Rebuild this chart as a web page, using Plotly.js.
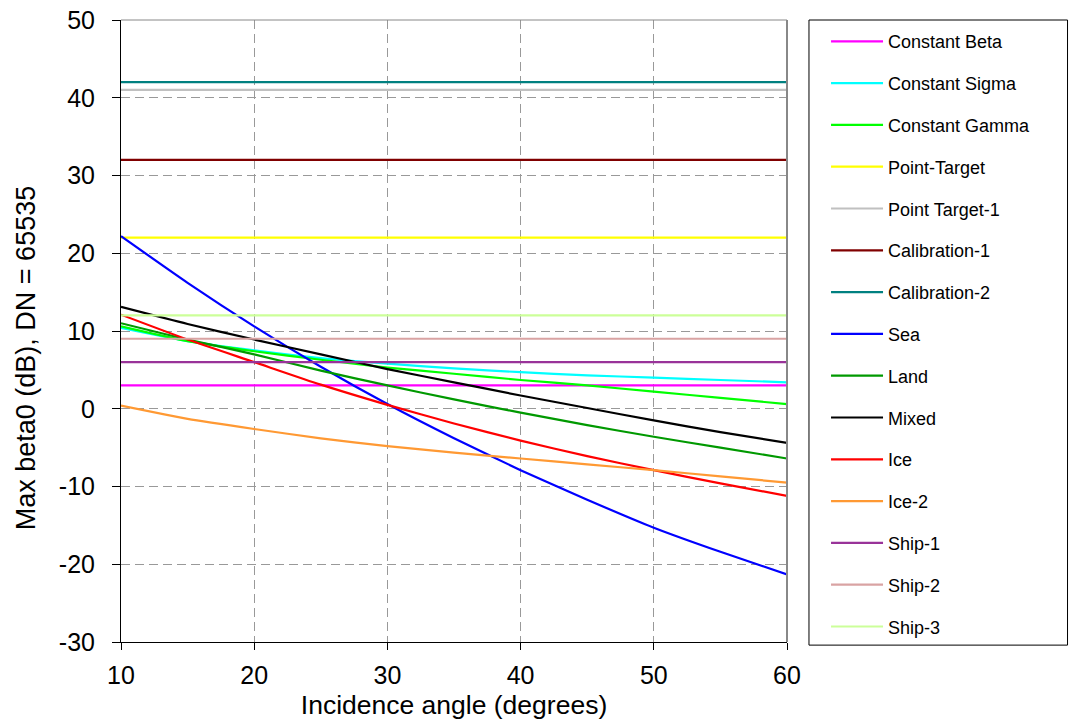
<!DOCTYPE html>
<html>
<head>
<meta charset="utf-8">
<script src="https://cdn.plot.ly/plotly-3.0.1.min.js"></script>
<style>html,body{margin:0;padding:0;background:#fff;}#chart{width:1069px;height:721px;}</style>
</head>
<body>
<div id="chart"></div>
<script>
// Incidence angles (degrees) for curved series
const angles = [10, 15, 20, 25, 30, 35, 40, 45, 50, 55, 60];
// Horizontal (constant) series span
const angleSpan = [10, 60];

// Tick labels
const xTickVals = [10, 20, 30, 40, 50, 60];
const xTickText = ["10", "20", "30", "40", "50", "60"];
const yTickVals = [-30, -20, -10, 0, 10, 20, 30, 40, 50];
const yTickText = ["-30", "-20", "-10", "0", "10", "20", "30", "40", "50"];
const yTitle = "Max beta0 (dB), DN = 65535";
const xTitle = "Incidence angle (degrees)";

// Curved series values (dB)
const constantSigma = [10.4, 8.7, 7.5, 6.5, 5.8, 5.2, 4.7, 4.3, 4.0, 3.7, 3.4];
const constantGamma = [10.6, 8.7, 7.4, 6.3, 5.3, 4.5, 3.7, 3.0, 2.2, 1.4, 0.6];
const sea = [22.2, 16.2, 10.6, 5.4, 0.6, -3.8, -7.9, -11.7, -15.3, -18.4, -21.3];
const land = [11.0, 8.9, 7.0, 4.9, 3.0, 1.2, -0.5, -2.1, -3.6, -5.0, -6.4];
const mixed = [13.1, 10.9, 8.9, 7.0, 5.1, 3.4, 1.7, 0.1, -1.5, -3.0, -4.4];
const ice = [12.1, 8.9, 6.0, 3.1, 0.5, -1.9, -4.1, -6.1, -7.9, -9.6, -11.2];
const ice2 = [0.4, -1.3, -2.6, -3.8, -4.8, -5.65, -6.4, -7.15, -7.9, -8.7, -9.5];

// Constant series levels (dB)
const constantBeta = 3;
const pointTarget = 22;
const pointTarget1 = 41;
const calibration1 = 32;
const calibration2 = 42;
const ship1 = 6;
const ship2 = 9;
const ship3 = 12;

const seriesNames = ["Constant Beta","Constant Sigma","Constant Gamma","Point-Target","Point Target-1",
  "Calibration-1","Calibration-2","Sea","Land","Mixed","Ice","Ice-2","Ship-1","Ship-2","Ship-3"];
const seriesColors = ["#FF00FF","#00FFFF","#00FF00","#FFFF00","#C0C0C0",
  "#800000","#008080","#0000FF","#009900","#000000","#FF0000","#FF9933","#993399","#D9A3A3","#CCFF99"];

function flat(v){ return [v, v]; }
const seriesX = [angleSpan, angles, angles, angleSpan, angleSpan, angleSpan, angleSpan,
  angles, angles, angles, angles, angles, angleSpan, angleSpan, angleSpan];
const seriesY = [flat(constantBeta), constantSigma, constantGamma, flat(pointTarget), flat(pointTarget1),
  flat(calibration1), flat(calibration2), sea, land, mixed, ice, ice2, flat(ship1), flat(ship2), flat(ship3)];

const traces = seriesNames.map((n, i) => ({
  type: "scatter", mode: "lines", name: n, legendgroup: "g" + i,
  x: seriesX[i], y: seriesY[i],
  line: {color: seriesColors[i], width: 2.2, shape: "spline", smoothing: 0.6}
}));

const fam = "Liberation Sans, Arial, sans-serif";
const font = {family: fam, size: 25, color: "#000"};

const layout = {
  width: 1069, height: 721,
  margin: {l: 121, r: 282, t: 20, b: 79},
  paper_bgcolor: "#fff", plot_bgcolor: "#fff",
  font: font,
  showlegend: true,
  legend: {
    x: 1.0586, xanchor: "left", y: 0.995, yanchor: "top",
    bgcolor: "rgba(0,0,0,0)", borderwidth: 0,
    font: {family: fam, size: 18, color: "#000"},
    traceorder: "grouped", tracegroupgap: 15.4, itemwidth: 52
  },
  xaxis: {
    range: [10, 60], tickvals: xTickVals, ticktext: xTickText,
    showline: true, linecolor: "#000", linewidth: 1,
    ticks: "outside", ticklen: 7, tickcolor: "#000",
    showgrid: true, gridcolor: "#999", griddash: "9px,5px", gridwidth: 1,
    zeroline: false, automargin: false,
    tickfont: font, ticklabelstandoff: 4,
    title: {text: xTitle, font: {family: fam, size: 26.5, color: "#000"}, standoff: 7}
  },
  yaxis: {
    range: [-30, 50], tickvals: yTickVals, ticktext: yTickText,
    showline: true, linecolor: "#000", linewidth: 1,
    ticks: "outside", ticklen: 8, tickcolor: "#000",
    showgrid: true, gridcolor: "#999", griddash: "9px,5px", gridwidth: 1,
    zeroline: false, automargin: false,
    tickfont: font, ticklabelstandoff: 12
  },
  annotations: [
    {text: yTitle, xref: "paper", yref: "paper", x: -0.1434, y: 0.457,
     xanchor: "center", yanchor: "middle", textangle: -90, showarrow: false,
     font: {family: fam, size: 27, color: "#000"}}
  ],
  shapes: [
    {type: "line", xref: "paper", yref: "paper", x0: 1, x1: 1, y0: 0, y1: 1, line: {color: "#888", width: 2}},
    {type: "line", xref: "paper", yref: "paper", x0: 0, x1: 1, y0: 1, y1: 1, line: {color: "#888", width: 1}},
    {type: "rect", xref: "paper", yref: "paper", x0: 1.033, x1: 1.4212, y0: -0.005, y1: 1.0,
     line: {color: "#000", width: 1}, fillcolor: "rgba(0,0,0,0)", layer: "above"}
  ]
};

Plotly.newPlot("chart", traces, layout, {displayModeBar: false, staticPlot: true});
</script>
</body>
</html>
